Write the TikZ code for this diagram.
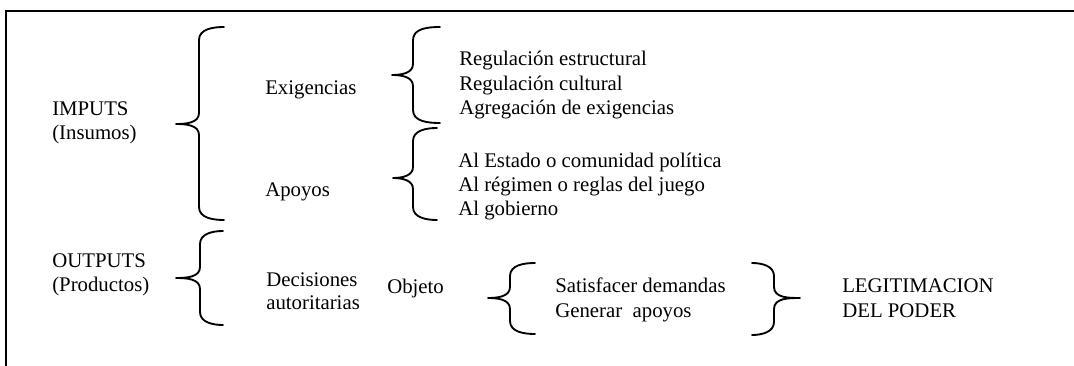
\documentclass[tikz,border=0pt]{standalone}
\usepackage{fontspec}
\setmainfont{Liberation Serif}
\newcommand\leftbrc[6]{% tip x, vertical x, end x, top y, tip y, bottom y
  \draw[brc] (#3,#4) to[out=180,in=90] (#2,#4+13) -- (#2,#5-11) to[out=-90,in=0] (#1,#5)
    to[out=0,in=90] (#2,#5+11) -- (#2,#6-13) to[out=-90,in=180] (#3,#6);}
\newcommand\rightbrc[6]{% tip x, vertical x, end x, top y, tip y, bottom y
  \draw[brc] (#3,#4) to[out=0,in=90] (#2,#4+13) -- (#2,#5-11) to[out=-90,in=180] (#1,#5)
    to[out=180,in=90] (#2,#5+11) -- (#2,#6-13) to[out=-90,in=0] (#3,#6);}
\begin{document}
\begin{tikzpicture}[x=0.75pt,y=-0.75pt,
  txt/.style={font=\fontsize{15.6}{18}\selectfont, anchor=base west, inner sep=0pt},
  brc/.style={line width=1.4pt, line cap=round, line join=round},
  frame/.style={line width=1.5pt}]
\useasboundingbox (0,0) rectangle (1074,366);
% frame (top and left sides)
\draw[frame] (6,366) -- (6,11) -- (1074,11);
% texts
\node[txt] (imp) at (52,116) {IMPUTS};
\node[txt] (ins) at (52,140) {(Insumos)};
\node[txt] (exi) at (265,95) {Exigencias};
\node[txt] (apo) at (265,197) {Apoyos};
\node[txt] (r1) at (459,66) {Regulación estructural};
\node[txt] (r2) at (459,91) {Regulación cultural};
\node[txt] (r3) at (459,115) {Agregación de exigencias};
\node[txt] (a1) at (458,168) {Al Estado o comunidad política};
\node[txt] (a2) at (458,192) {Al régimen o reglas del juego};
\node[txt] (a3) at (458,216) {Al gobierno};
\node[txt] (out) at (52,268) {OUTPUTS};
\node[txt] (pro) at (52,292) {(Productos)};
\node[txt] (dec) at (266,287) {Decisiones};
\node[txt] (aut) at (266,310) {autoritarias};
\node[txt] (obj) at (387,294) {Objeto};
\node[txt] (sat) at (555,293) {Satisfacer demandas};
\node[txt] (gen) at (555,318) {Generar~~apoyos};
\node[txt] (leg) at (842,293) {LEGITIMACION};
\node[txt] (del) at (842,318) {DEL PODER};
% braces
\leftbrc{176}{199}{224}{27}{124}{220}
\leftbrc{392}{413}{440}{27}{75}{123}
\leftbrc{393}{413}{437}{128}{178}{220}
\leftbrc{176}{200}{223}{231}{278}{325}
\leftbrc{488}{510}{535}{263}{298}{334}
\rightbrc{800}{774}{752}{263}{298}{335}
\end{tikzpicture}
\end{document}
